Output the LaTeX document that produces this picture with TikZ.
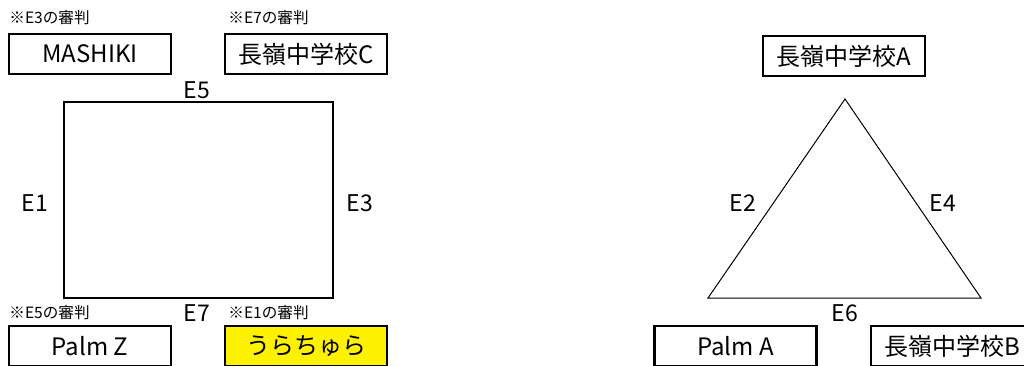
\documentclass[tikz,border=0pt]{standalone}
\usepackage{fontspec}
\newfontfamily\jp{Noto Sans CJK JP}
\usetikzlibrary{positioning,calc}

\begin{document}
\begin{tikzpicture}[x=0.5pt,y=-0.5pt,
    team/.style={draw,line width=1.1pt,minimum width=81pt,minimum height=20pt,inner sep=0pt,font=\jp\fontsize{12}{14}\selectfont},
    refnote/.style={anchor=west,inner sep=0pt,font=\jp\fontsize{7.8}{9}\selectfont},
    edgelbl/.style={inner sep=0pt,font=\jp\fontsize{11.5}{14}\selectfont}]
    \clip (0,0) rectangle (1024,365);
    \fill[white] (0,0) rectangle (1024,365);

    % Group 1: square
    \coordinate (s1) at (64,102);
    \coordinate (s2) at (333,102);
    \coordinate (s3) at (333,298);
    \coordinate (s4) at (64,298);
    \draw[line width=1pt] (s1) -- (s2) -- (s3) -- (s4) -- cycle;

    \node[team] (mashiki) at (90,54) {MASHIKI};
    \node[team] (chuC) at (306,54) {長嶺中学校C};
    \node[team] (palmZ) at (90,346) {Palm Z};
    \node[team,fill=yellow] (urachura) at (306,346) {うらちゅら};

    \node[refnote] (noteE3) at (9,18) {※E3の審判};
    \node[refnote] (noteE7) at (228,18) {※E7の審判};
    \node[refnote] (noteE5) at (9,313) {※E5の審判};
    \node[refnote] (noteE1) at (228,313) {※E1の審判};

    % Group 2: triangle
    \coordinate (t1) at (845,99);
    \coordinate (t2) at (981,298);
    \coordinate (t3) at (708,298);
    \draw[line width=0.5pt] (t1) -- (t2) -- (t3) -- cycle;

    \node[team] (chuA) at (844,56) {長嶺中学校A};
    \node[team] (palmA) at (735.5,346) {Palm A};
    \node[team] (chuB) at (952,346) {長嶺中学校B};

    % edge (match) labels
    \foreach \name/\x/\y in {E5/197/90, E1/35/203, E3/360/203, E7/197/313,
                             E2/743/203, E4/943/203, E6/845/313} {
        \node[edgelbl] (lbl\name) at (\x,\y) {\name};
    }
\end{tikzpicture}
\end{document}
